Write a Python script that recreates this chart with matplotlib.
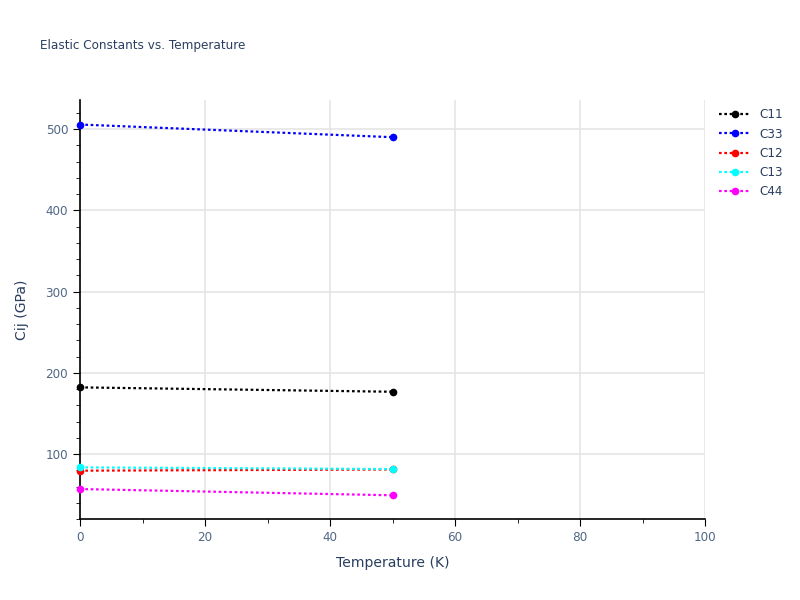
import matplotlib

matplotlib.use("Agg")
import matplotlib.pyplot as plt
from matplotlib.ticker import MultipleLocator

temperature = [0, 50]
series_names = ["C11", "C33", "C12", "C13", "C44"]
c11 = [182.1, 176.7]
c33 = [505.8, 490.2]
c12 = [79.5, 81.0]
c13 = [83.6, 81.5]
c44 = [56.9, 49.2]
series_values = [c11, c33, c12, c13, c44]
series_colors = ["black", "blue", "red", "cyan", "magenta"]

plt.rcParams["font.family"] = ["DejaVu Sans"]
text_color = "#2a3f5f"
tick_color = "#506784"
px = 72 / 100  # plotly pixel sizes -> points at 100 dpi

fig = plt.figure(figsize=(8, 6), dpi=100, facecolor="white")
ax = fig.add_axes([80 / 800, 1 - 519 / 600, 625 / 800, 419 / 600])

for name, values, color in zip(series_names, series_values, series_colors):
    ax.plot(temperature, values, color=color, linestyle=(0, (1.2, 1.2)), linewidth=1.6,
            marker="o", markersize=4.5, label=name, clip_on=False, zorder=3)

ax.set_xlim(0, 100)
ax.set_ylim(20, 536)
ax.xaxis.set_major_locator(MultipleLocator(20))
ax.xaxis.set_minor_locator(MultipleLocator(10))
ax.yaxis.set_major_locator(MultipleLocator(100))
ax.yaxis.set_minor_locator(MultipleLocator(20))
ax.grid(True, which="major", color="#e5e5e5", linewidth=1.2)
ax.set_axisbelow(True)

for side in ("top", "right"):
    ax.spines[side].set_visible(False)
for side in ("left", "bottom"):
    ax.spines[side].set_color("black")
    ax.spines[side].set_linewidth(1.2)

ax.tick_params(which="major", direction="out", length=5, color="black", labelcolor=tick_color,
               labelsize=12 * px)
ax.tick_params(which="minor", direction="out", length=3, color="black")

ax.set_xlabel("Temperature (K)", color=text_color, fontsize=14 * px, labelpad=9)
ax.set_ylabel("Cij (GPa)", color=text_color, fontsize=14 * px, labelpad=12)
fig.text(40 / 800, 1 - 46 / 600, "Elastic Constants vs. Temperature", color=text_color,
         fontsize=12 * px, va="center", ha="left")

legend = ax.legend(loc="upper left", bbox_to_anchor=(1.005, 1.006), frameon=False, fontsize=12 * px,
                   handlelength=2.6, labelspacing=0.52)
for text in legend.get_texts():
    text.set_color(text_color)

fig.savefig("out.png", dpi=100, facecolor=fig.get_facecolor())
